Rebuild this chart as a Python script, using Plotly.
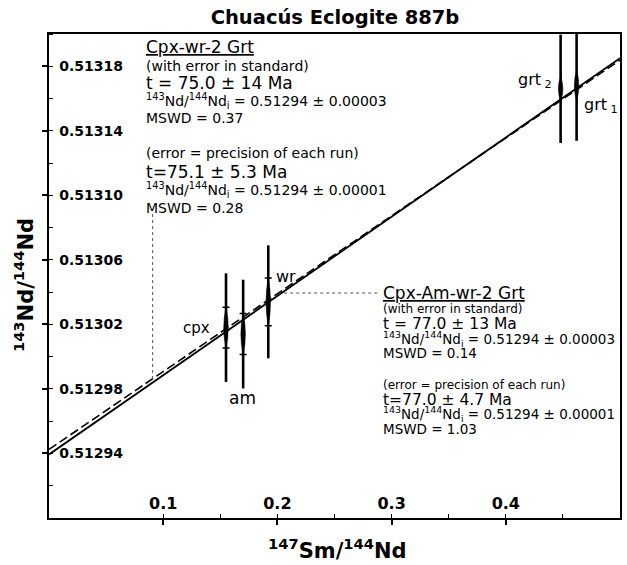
import plotly.graph_objects as go

# ---------------- data ----------------
mineral_names = ["cpx", "am", "wr"]
mineral_x = [0.155, 0.170, 0.192]
mineral_y = [0.513018, 0.513014, 0.513034]
mineral_err_std = [0.0000337, 0.0000337, 0.0000350]
mineral_err_run = [0.0000127, 0.0000127, 0.0000148]

garnet_names = ["grt 2", "grt 1"]
garnet_x = [0.448, 0.462]
garnet_y = [0.513166, 0.513168]
garnet_err_std = [0.0000336, 0.0000342]
garnet_err_run = [0.0000077, 0.0000093]

isochron_x = [0.0, 0.5]
isochron_all_y = [0.5129394, 0.5131850]   # Cpx-Am-wr-2 Grt (solid)
isochron_cpx_y = [0.5129425, 0.5131838]   # Cpx-wr-2 Grt (dashed)

x_tick_vals = [0.1, 0.2, 0.3, 0.4]
x_tick_text = ["0.1", "0.2", "0.3", "0.4"]
y_tick_vals = [0.51294, 0.51298, 0.51302, 0.51306, 0.51310, 0.51314, 0.51318]
y_tick_text = ["0.51294", "0.51298", "0.51302", "0.51306", "0.51310", "0.51314", "0.51318"]

X_RANGE = [0.0, 0.5]
Y_RANGE = [0.51290, 0.51320]

# ---------------- layout geometry ----------------
W, H = 627, 565
L, T, PW, PH = 49, 34, 573, 484
FONT = "DejaVu Sans"


def px(xp):
    return (xp - L) / PW


def py(yp):
    return 1 - (yp - T) / PH


fig = go.Figure()

# isochrons
fig.add_trace(go.Scatter(x=isochron_x, y=isochron_cpx_y, mode="lines",
                         line=dict(color="black", width=1.6, dash="9px,4px"),
                         hoverinfo="skip", showlegend=False))
fig.add_trace(go.Scatter(x=isochron_x, y=isochron_all_y, mode="lines",
                         line=dict(color="black", width=1.8),
                         hoverinfo="skip", showlegend=False))

# long error bars (error in standard)
for xs, ys, es in [(mineral_x, mineral_y, mineral_err_std),
                   (garnet_x, garnet_y, garnet_err_std)]:
    fig.add_trace(go.Scatter(x=xs, y=ys, mode="markers",
                             marker=dict(size=1, color="black"),
                             error_y=dict(type="data", array=es, visible=True,
                                          color="black", thickness=2.6, width=0),
                             cliponaxis=False, hoverinfo="skip", showlegend=False))

# inner error bars (precision of each run)
fig.add_trace(go.Scatter(x=mineral_x, y=mineral_y, mode="markers",
                         marker=dict(size=1, color="black"),
                         error_y=dict(type="data", array=mineral_err_run, visible=True,
                                      color="black", thickness=1.5, width=3.5),
                         cliponaxis=False, hoverinfo="skip", showlegend=False))

# lens-shaped error ellipses
shapes = []
for xs, ys, es in [(mineral_x, mineral_y, mineral_err_run),
                   (garnet_x, garnet_y, garnet_err_run)]:
    for xv, yv, ev in zip(xs, ys, es):
        dx = 0.0040
        path = (f"M {xv},{yv + ev} Q {xv + dx},{yv} {xv},{yv - ev} "
                f"Q {xv - dx},{yv} {xv},{yv + ev} Z")
        shapes.append(dict(type="path", xref="x", yref="y", path=path,
                           fillcolor="black", line=dict(color="black", width=0.5)))

# dotted leader lines
shapes.append(dict(type="line", xref="paper", yref="paper",
                   x0=px(153), x1=px(153), y0=py(214), y1=py(381),
                   line=dict(color="#555555", width=1, dash="dot")))
shapes.append(dict(type="line", xref="paper", yref="paper",
                   x0=px(285), x1=px(381), y0=py(293), y1=py(293),
                   line=dict(color="#555555", width=1, dash="dot")))

annotations = []


def add_text(text, xp, yp, size, anchor="left", bold=False, angle=0):
    annotations.append(dict(text=text, xref="paper", yref="paper",
                            x=px(xp), y=py(yp), xanchor=anchor, yanchor="middle",
                            showarrow=False, textangle=angle,
                            font=dict(family=FONT, size=size, color="black",
                                      weight="bold" if bold else "normal")))


nd_i = "<sup>143</sup>Nd/<sup>144</sup>Nd<sub>i</sub>"

# left text block
left_lines = [
    ("<u>Cpx-wr-2 Grt</u>", 47, 17),
    ("(with error in standard)", 66, 14),
    ("t = 75.0 ± 14 Ma", 83, 17),
    (nd_i + " = 0.51294 ± 0.00003", 101, 14),
    ("MSWD = 0.37", 118, 14),
    ("(error = precision of each run)", 153, 14),
    ("t=75.1 ± 5.3 Ma", 172, 17),
    (nd_i + " = 0.51294 ± 0.00001", 190, 14),
    ("MSWD = 0.28", 208, 14),
]
for t, yp, s in left_lines:
    add_text(t, 144, yp, s)

# right text block
right_lines = [
    ("<u>Cpx-Am-wr-2 Grt</u>", 293, 17),
    ("(with error in standard)", 309, 12),
    ("t = 77.0 ± 13 Ma", 324, 15.5),
    (nd_i + " = 0.51294 ± 0.00003", 339, 13.5),
    ("MSWD = 0.14", 353, 13.5),
    ("(error = precision of each run)", 385, 12),
    ("t=77.0 ± 4.7 Ma", 400, 15.5),
    (nd_i + " = 0.51294 ± 0.00001", 414, 13.5),
    ("MSWD = 1.03", 429, 13.5),
]
for t, yp, s in right_lines:
    add_text(t, 382, yp, s)

# point labels
add_text("cpx", 213, 328, 15, anchor="right")
add_text("am", 243, 398, 17, anchor="center")
add_text("wr", 275, 276, 16)
add_text("grt<sub> 2</sub>", 556, 81, 16, anchor="right")
add_text("grt<sub> 1</sub>", 584, 106, 16)

# axis titles
add_text("<sup>147</sup>Sm/<sup>144</sup>Nd", 339, 549, 21, anchor="center", bold=True)
add_text("<sup>143</sup>Nd/<sup>144</sup>Nd", 24, 285, 21, anchor="center", bold=True, angle=-90)

fig.update_layout(
    width=W, height=H,
    margin=dict(l=L, r=W - L - PW, t=T, b=H - T - PH),
    paper_bgcolor="white", plot_bgcolor="white",
    showlegend=False,
    title=dict(text="<b>Chuacús Eclogite 887b</b>", x=335 / W, y=1 - 17 / H,
               xanchor="center", yanchor="middle",
               font=dict(family=FONT, size=19.5, color="black")),
    xaxis=dict(range=X_RANGE, showgrid=False, zeroline=False,
               showline=True, linecolor="black", linewidth=2, mirror=True,
               tickvals=x_tick_vals, ticktext=x_tick_text,
               ticks="outside", ticklen=5, tickwidth=1.5, tickcolor="black",
               ticklabelposition="inside", ticklabelstandoff=6,
               tickfont=dict(family=FONT, size=16, color="black", weight="bold"),
               minor=dict(dtick=0.05, tick0=0, ticks="inside", ticklen=4,
                          tickwidth=1, tickcolor="black", showgrid=False)),
    yaxis=dict(range=Y_RANGE, showgrid=False, zeroline=False,
               showline=True, linecolor="black", linewidth=2, mirror=True,
               tickvals=y_tick_vals, ticktext=y_tick_text,
               ticks="outside", ticklen=5, tickwidth=1.5, tickcolor="black",
               ticklabelposition="inside", ticklabelstandoff=10,
               tickfont=dict(family=FONT, size=14, color="black", weight="bold"),
               minor=dict(dtick=0.00002, tick0=0.51290, ticks="inside", ticklen=4,
                          tickwidth=1, tickcolor="black", showgrid=False)),
    xaxis2=dict(range=X_RANGE, overlaying="x", anchor="y", side="bottom",
                showgrid=False, zeroline=False, showline=False,
                tickvals=x_tick_vals, ticks="inside", ticklen=5, tickwidth=1.5,
                tickcolor="black", showticklabels=False),
    yaxis2=dict(range=Y_RANGE, overlaying="y", anchor="x", side="left",
                showgrid=False, zeroline=False, showline=False,
                tickvals=y_tick_vals, ticks="inside", ticklen=5, tickwidth=1.5,
                tickcolor="black", showticklabels=False),
    shapes=shapes,
    annotations=annotations,
)

fig.write_html("out.html",
               config={"displayModeBar": False},
               post_script="document.body.style.margin='0';document.body.style.padding='0';")
